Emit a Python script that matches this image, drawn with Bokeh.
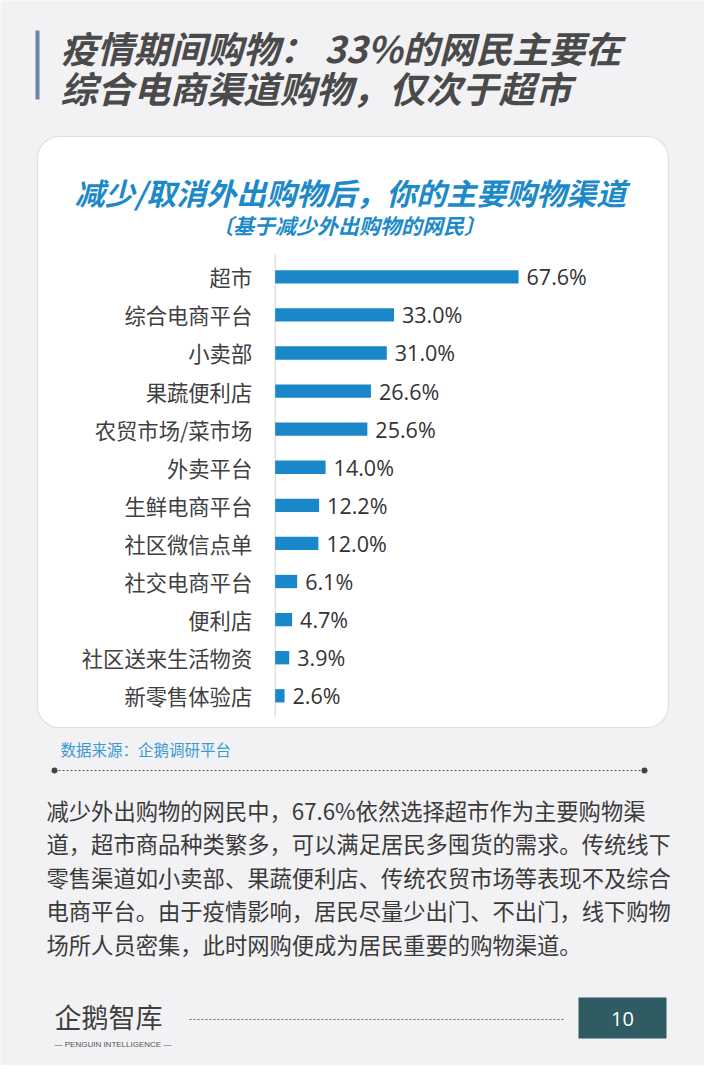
from bokeh.plotting import figure
from bokeh.models import Range1d, Label, BoxAnnotation, ColumnDataSource
from bokeh.core.properties import value
from bokeh.embed import file_html
from bokeh.resources import INLINE

# ---------------- data ----------------
categories = ["超市", "综合电商平台", "小卖部", "果蔬便利店", "农贸市场/菜市场", "外卖平台",
              "生鲜电商平台", "社区微信点单", "社交电商平台", "便利店", "社区送来生活物资", "新零售体验店"]
shares = [67.6, 33.0, 31.0, 26.6, 25.6, 14.0, 12.2, 12.0, 6.1, 4.7, 3.9, 2.6]
value_labels = ["%.1f%%" % v for v in shares]

title_lines = ["疫情期间购物： 33%的网民主要在", "综合电商渠道购物，仅次于超市"]
chart_title = "减少/取消外出购物后，你的主要购物渠道"
chart_subtitle = "〔基于减少外出购物的网民〕"
source_note = "数据来源：企鹅调研平台"
paragraph = [
    "减少外出购物的网民中，67.6%依然选择超市作为主要购物渠",
    "道，超市商品种类繁多，可以满足居民多囤货的需求。传统线下",
    "零售渠道如小卖部、果蔬便利店、传统农贸市场等表现不及综合",
    "电商平台。由于疫情影响，居民尽量少出门、不出门，线下购物",
    "场所人员密集，此时网购便成为居民重要的购物渠道。",
]
page_number = "10"

# ---------------- layout ----------------
W, H = 704, 1065
OFF = 8                    # page margin
BAR_X0 = 282.7 - OFF       # canvas x of value 0
PX_PER_PCT = 3.6
ROW0 = 284.3 - OFF         # canvas y of first bar centre
ROW_STEP = 38.09

x_range = Range1d(-BAR_X0 / PX_PER_PCT, (W - BAR_X0) / PX_PER_PCT)
y_range = Range1d((H - ROW0) / ROW_STEP, -ROW0 / ROW_STEP)

BG = "#f2f1f4"
FONT = "Noto Sans CJK SC"

p = figure(width=W, height=H, x_range=x_range, y_range=y_range,
           output_backend="svg", toolbar_location=None, min_border=0,
           background_fill_color=BG, border_fill_color=BG, outline_line_color=None)
p.axis.visible = False
p.grid.visible = False

# pixel coordinate system (reference-image coordinates)
p.extra_x_ranges = {"px": Range1d(OFF, W + OFF)}
p.extra_y_ranges = {"px": Range1d(H + OFF, OFF)}
PX = dict(x_range_name="px", y_range_name="px")

# ---------------- decorations ----------------
# title accent bar
p.add_layout(BoxAnnotation(left=43, right=47, top=38, bottom=107, fill_color="#6d86a6",
                           fill_alpha=1, line_color=None, **PX))
for i, t in enumerate(title_lines):
    p.add_layout(Label(x=68, y=55 + 40 * i, text=t, text_font=FONT, text_font_size="36.5px",
                       text_font_style="bold italic", text_color="#4a4a4a",
                       text_baseline="middle", **PX))

# card (drawn beneath the bars)
p.add_layout(BoxAnnotation(left=45, right=676, top=144, bottom=735, fill_color="white",
                           fill_alpha=1, line_color="#a9a9a9", line_width=1.2,
                           border_radius=22, level="underlay", **PX))
p.add_layout(Label(x=358, y=199, text=chart_title, text_font=FONT, text_font_size="30px",
                   text_font_style="bold italic", text_color="#1c8ac9",
                   text_align="center", text_baseline="middle", **PX))
p.add_layout(Label(x=356, y=232, text=chart_subtitle, text_font=FONT, text_font_size="21px",
                   text_font_style="bold italic", text_color="#1c8ac9",
                   text_align="center", text_baseline="middle", **PX))

# ---------------- chart ----------------
src = ColumnDataSource(dict(y=list(range(len(categories))), v=shares, cat=categories,
                            lab=value_labels, zero=[0] * len(shares)))
n = len(categories)
p.segment(x0=[0], x1=[0], y0=[-0.5 - 0.1], y1=[n - 0.5 + 0.05], line_color="#d5d5d5", line_width=1)
p.hbar(y="y", left=0, right="v", height=0.35, source=src, fill_color="#1a87c9", line_color=None)
p.text(x="zero", y="y", text="cat", source=src, x_offset=-23, text_align="right",
       text_baseline="middle", text_font=value(FONT), text_font_size="21.3px", text_color="#404040")
p.text(x="v", y="y", text="lab", source=src, x_offset=8, text_align="left",
       text_baseline="middle", text_font=value("Open Sans"), text_font_size="21.5px",
       text_color="#333333")

# source note and divider
p.add_layout(Label(x=68, y=756, text=source_note, text_font=FONT, text_font_size="15.5px",
                   text_color="#3a9ad3", text_baseline="middle", **PX))
p.line(x=[62, 652], y=[778, 778], line_color="#555555", line_width=1, line_dash="2 2", **PX)
p.scatter(x=[62, 652], y=[778, 778], size=6, fill_color="#444444", line_color=None, **PX)

# paragraph
for i, t in enumerate(paragraph):
    p.add_layout(Label(x=54, y=817 + 33.5 * i, text=t, text_font=FONT, text_font_size="22.3px",
                       text_color="#3a3a3a", text_baseline="middle", **PX))

# footer logo
p.add_layout(Label(x=62, y=1024, text="企鹅智库", text_font=FONT, text_font_size="27px",
                   text_color="#3f3f3f", text_baseline="middle", **PX))
p.add_layout(Label(x=62, y=1052, text="— PENGUIN  INTELLIGENCE —", text_font="Liberation Sans",
                   text_font_size="8px", text_color="#555555", text_baseline="middle", **PX))
p.line(x=[197, 572], y=[1027, 1027], line_color="#666666", line_width=1, line_dash="2 2", **PX)
p.add_layout(BoxAnnotation(left=586, right=674, top=1005, bottom=1046, fill_color="#2f5b63",
                           fill_alpha=1, line_color=None, **PX))
p.add_layout(Label(x=630, y=1026, text=page_number, text_font="Open Sans", text_font_size="20px",
                   text_color="white", text_align="center", text_baseline="middle", **PX))

html = file_html(p, INLINE)
html = html.replace("<body>", '<body style="background:%s">' % BG, 1)
open("out.html", "w").write(html)
